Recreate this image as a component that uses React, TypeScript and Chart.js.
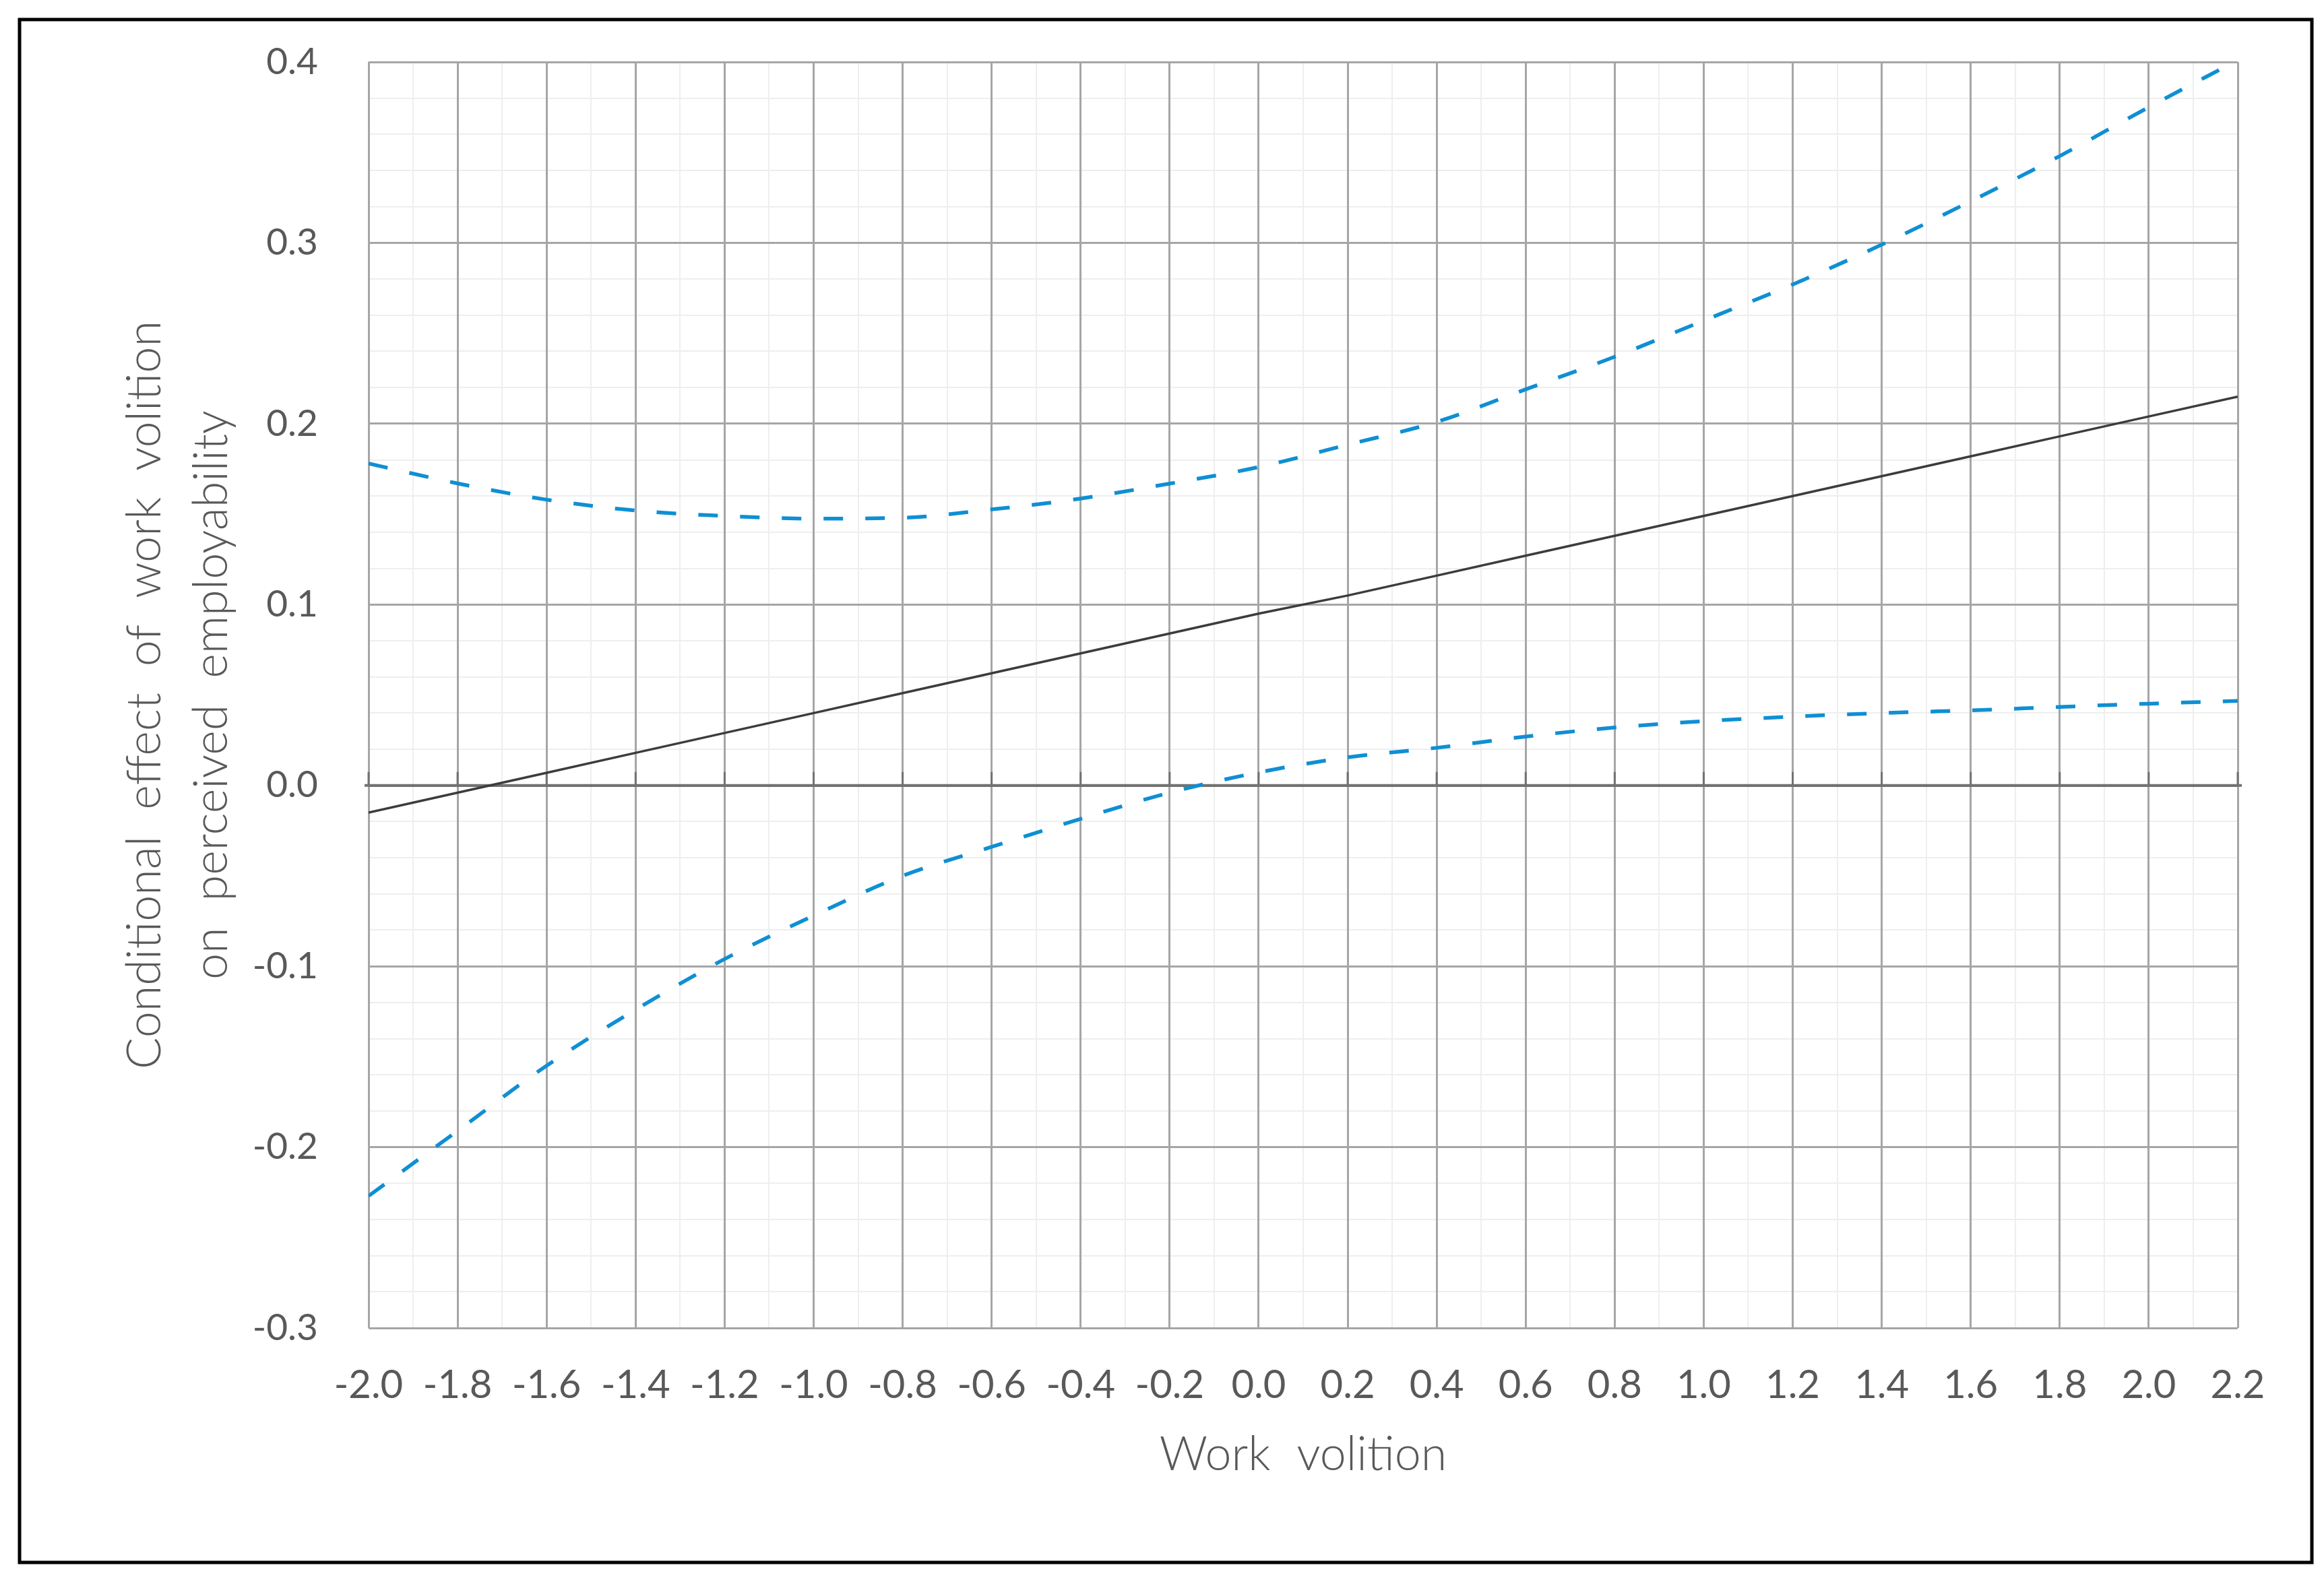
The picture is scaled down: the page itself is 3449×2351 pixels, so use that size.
import React, { useEffect, useRef } from 'react';
import { Chart, registerables } from 'chart.js';

Chart.register(...registerables);

// ---- data ----
const workVolition = [-2.0, -1.8, -1.6, -1.4, -1.2, -1.0, -0.8, -0.6, -0.4, -0.2, 0.0, 0.2, 0.4, 0.6, 0.8, 1.0, 1.2, 1.4, 1.6, 1.8, 2.0, 2.2];
const conditionalEffect = [-0.015, -0.004, 0.007, 0.018, 0.029, 0.040, 0.051, 0.062, 0.073, 0.084, 0.095, 0.105, 0.116, 0.127, 0.138, 0.149, 0.160, 0.171, 0.182, 0.193, 0.204, 0.215];
const upperBound = [0.178, 0.167, 0.158, 0.152, 0.149, 0.1475, 0.148, 0.1526, 0.1586, 0.1669, 0.176, 0.1884, 0.201, 0.219, 0.237, 0.257, 0.277, 0.299, 0.323, 0.348, 0.375, 0.401];
const lowerBound = [-0.227, -0.191, -0.155, -0.124, -0.096, -0.072, -0.050, -0.034, -0.0185, -0.004, 0.0072, 0.0155, 0.0208, 0.027, 0.032, 0.0355, 0.038, 0.040, 0.0415, 0.0434, 0.0452, 0.0467];

const xMin = -2.0;
const xMax = 2.2;
const yMin = -0.3;
const yMax = 0.4;
const xMajorStep = 0.2;
const xMinorStep = 0.1;
const yMajorStep = 0.1;
const yMinorStep = 0.02;

const xTitle = 'Work volition';
const yTitle = ['Conditional effect of work volition', 'on perceived employability'];

const TEXT = '#595959';
const MAJOR = '#A6A6A6';
const MINOR = '#EEEEEE';
const ZERO = '#727272';
const BLUE = '#0F8FD3';

const framePlugin = {
  id: 'frame',
  beforeDraw(chart: any) {
    // wider gaps between words, as in the reference's axis titles
    (chart.ctx as any).wordSpacing = '20px';
  },
  afterDraw(chart: any) {
    const ctx = chart.ctx;
    ctx.save();
    ctx.strokeStyle = '#000000';
    ctx.lineWidth = 5;
    ctx.strokeRect(29, 29, 3402, 2290);
    ctx.restore();
  },
};

const zeroTicksPlugin = {
  id: 'zeroTicks',
  beforeDatasetsDraw(chart: any) {
    const ctx = chart.ctx;
    const xs = chart.scales.x;
    const ys = chart.scales.y;
    const y0 = ys.getPixelForValue(0);
    ctx.save();
    ctx.strokeStyle = ZERO;
    ctx.lineWidth = 3;
    xs.ticks.forEach((t: any) => {
      const px = xs.getPixelForValue(t.value);
      ctx.beginPath();
      ctx.moveTo(px, y0);
      ctx.lineTo(px, y0 - 20);
      ctx.stroke();
    });
    ctx.beginPath();
    ctx.lineWidth = 4;
    ctx.moveTo(xs.left - 6, y0);
    ctx.lineTo(xs.right + 6, y0);
    ctx.stroke();
    ctx.restore();
  },
};

export default function App() {
  const canvasRef = useRef<HTMLCanvasElement | null>(null);

  useEffect(() => {
    document.body.style.margin = '0';
    const canvas = canvasRef.current;
    if (!canvas) return;
    const toPoints = (ys: number[]) => workVolition.map((x, i) => ({ x, y: ys[i] }));

    const chart = new Chart(canvas, {
      type: 'line',
      data: {
        datasets: [
          {
            label: 'upper',
            data: toPoints(upperBound),
            borderColor: BLUE,
            borderWidth: 5.5,
            borderDash: [29, 33],
            pointRadius: 0,
            tension: 0.4,
            cubicInterpolationMode: 'monotone',
            fill: false,
          },
          {
            label: 'effect',
            data: toPoints(conditionalEffect),
            borderColor: '#3C3C3C',
            borderWidth: 3.5,
            pointRadius: 0,
            tension: 0,
            fill: false,
          },
          {
            label: 'lower',
            data: toPoints(lowerBound),
            borderColor: BLUE,
            borderWidth: 5.5,
            borderDash: [29, 33],
            pointRadius: 0,
            tension: 0.4,
            cubicInterpolationMode: 'monotone',
            fill: false,
          },
        ],
      },
      options: {
        responsive: false,
        devicePixelRatio: 1,
        animation: false,
        events: [],
        layout: { padding: { left: 0, top: 92, right: 128, bottom: 130 } },
        plugins: {
          legend: { display: false },
          tooltip: { enabled: false },
        },
        scales: {
          xMinor: {
            type: 'linear',
            position: 'bottom',
            min: xMin,
            max: xMax,
            ticks: { display: false, stepSize: xMinorStep, precision: 2, autoSkip: false },
            grid: { color: MINOR, lineWidth: 2, drawTicks: false, z: -2 },
            border: { display: false },
            afterFit: (s: any) => { s.height = 0; s.paddingLeft = 0; s.paddingRight = 0; },
          },
          yMinor: {
            type: 'linear',
            position: 'left',
            min: yMin,
            max: yMax,
            ticks: { display: false, stepSize: yMinorStep, precision: 2, autoSkip: false },
            grid: { color: MINOR, lineWidth: 2, drawTicks: false, z: -2 },
            border: { display: false },
            afterFit: (s: any) => { s.width = 0; s.paddingTop = 0; s.paddingBottom = 0; },
          },
          x: {
            type: 'linear',
            position: 'bottom',
            min: xMin,
            max: xMax,
            ticks: {
              stepSize: xMajorStep,
              precision: 2,
              autoSkip: false,
              maxRotation: 0,
              minRotation: 0,
              padding: 50,
              color: TEXT,
              font: { family: 'Lato', size: 58 },
              callback: (v: any) => Number(v).toFixed(1),
            },
            grid: { color: MAJOR, lineWidth: 3, drawTicks: false, z: -1 },
            border: { display: false },
            title: {
              display: true,
              text: xTitle,
              color: TEXT,
              font: { family: 'Lato', size: 70, weight: 300, lineHeight: 1.2 },
              padding: { top: 0, bottom: 20 },
            },
            afterFit: (s: any) => { s.height = 250; s.paddingLeft = 40; s.paddingRight = 40; },
          },
          y: {
            type: 'linear',
            position: 'left',
            min: yMin,
            max: yMax,
            ticks: {
              stepSize: yMajorStep,
              precision: 2,
              autoSkip: false,
              padding: 75,
              color: TEXT,
              font: { family: 'Lato', size: 55 },
              callback: (v: any) => Number(v).toFixed(1),
            },
            grid: {
              color: (c: any) => (Math.abs(c.tick.value) < 1e-9 ? ZERO : MAJOR),
              lineWidth: (c: any) => (Math.abs(c.tick.value) < 1e-9 ? 4 : 3),
              drawTicks: false,
              z: -1,
            },
            border: { display: false },
            title: {
              display: true,
              text: yTitle,
              color: TEXT,
              font: { family: 'Lato', size: 70, weight: 300, lineHeight: 1.414 },
              padding: { top: 166, bottom: 0 },
            },
            afterFit: (s: any) => { s.width = 547; s.paddingTop = 33; s.paddingBottom = 33; },
          },
        },
      } as any,
      plugins: [zeroTicksPlugin, framePlugin],
    });

    return () => chart.destroy();
  }, []);

  return (
    <div style={{ position: 'absolute', left: 0, top: 0, width: 3449, height: 2351, background: '#ffffff' }}>
      <canvas ref={canvasRef} width={3449} height={2351} style={{ display: 'block' }} />
    </div>
  );
}
